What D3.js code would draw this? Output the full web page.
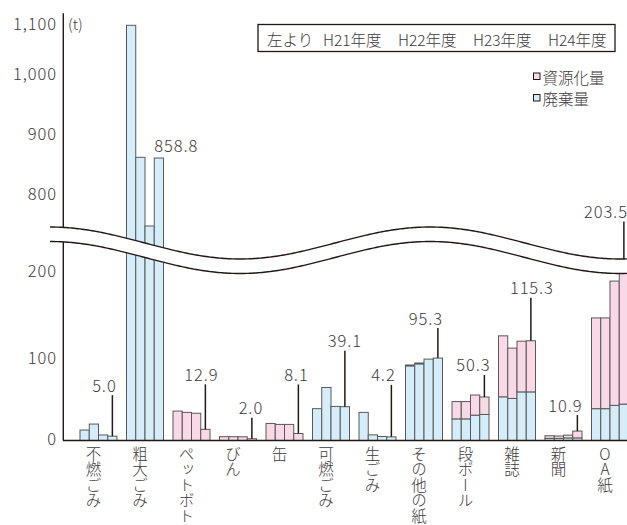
<!DOCTYPE html>
<html><head><meta charset="utf-8">
<script src="https://cdn.jsdelivr.net/npm/d3@7"></script>
<style>
html,body{margin:0;padding:0;background:#fff;overflow:hidden;}
svg{display:block;}
text{font-family:"Noto Sans CJK JP","Noto Sans",sans-serif;fill:#3e3a39;font-weight:300;}
.num{letter-spacing:0.9px;}
</style></head><body>
<svg id="chart" width="627" height="525"></svg>
<script>
// ---------- data ----------
const categories = ["不燃ごみ","粗大ごみ","ペットボトル","びん","缶","可燃ごみ","生ごみ","その他の紙","段ボール","雑誌","新聞","OA紙"];
const years = ["H21年度","H22年度","H23年度","H24年度"];
// 廃棄量 (t) per category, H21..H24
const waste = [
  [12.1, 19.0, 6.4, 5.0],
  [1080, 860, 745.5, 858.8],
  [0, 0, 0, 0],
  [0, 0, 0, 0],
  [0, 0, 0, 0],
  [36.8, 61.3, 39.4, 39.1],
  [32.5, 6.5, 4.6, 4.2],
  [86.3, 88.6, 94.1, 95.3],
  [25.0, 25.0, 29.3, 30.1],
  [50.5, 48.6, 56.2, 56.2],
  [2.5, 2.5, 3.0, 3.0],
  [36.8, 36.8, 40.6, 42.1]
];
// 資源化量 (t) per category, H21..H24
const resource = [
  [0, 0, 0, 0],
  [0, 0, 0, 0],
  [34.0, 32.5, 31.5, 12.9],
  [4.4, 4.4, 4.3, 2.0],
  [19.7, 18.6, 18.6, 8.1],
  [0, 0, 0, 0],
  [0, 0, 0, 0],
  [1.0, 1.0, 0, 0],
  [20.0, 20.0, 23.3, 20.2],
  [70.5, 58.2, 58.6, 59.1],
  [3.0, 2.7, 3.2, 7.9],
  [104.9, 104.9, 143.7, 161.4]
];
const lowerTicks = [0, 100, 200];
const upperTicks = [800, 900, 1000, 1100];
const seriesNames = ["資源化量", "廃棄量"];
const legendPrefix = "左より";
const unitLabel = "(t)";

// ---------- layout / style ----------
const colors = { "資源化量": "#f9d9e7", "廃棄量": "#d5ecf9" };
const barStroke = "#5a5858";
const ink = "#231815";
// annotation layout for H24 total labels: [leader length px, label dx from leader]
const annot = [
  [41, -8], null, [45, -4], [21, -1], [49, -2], [56, 0], [52, -8], [30, -12], [22, -11], [43, 1], [16, -12], [43, 0]
];

const svg = d3.select("#chart");
const fmt = d3.format(",");

const yLow = d3.scaleLinear().domain([0, 200]).range([440.5, 267.5]);
const yUp = d3.scaleLinear().domain([800, 1100]).range([193.3, 13.3]);
const y = v => (v > 400 ? yUp(v) : yLow(v));

const x = d3.scaleBand().domain(categories).range([80, 628.5]).paddingInner(9.5 / 46.5).paddingOuter(0);
const xs = d3.scaleBand().domain(years).range([0, x.bandwidth()]).padding(0);

// ---------- bars ----------
const barData = [];
categories.forEach((c, i) => {
  years.forEach((yr, j) => {
    const w = waste[i][j], r = resource[i][j];
    const x0 = x(c) + xs(yr);
    if (w > 0) barData.push({ x: x0, v0: 0, v1: w, s: "廃棄量" });
    if (r > 0) barData.push({ x: x0, v0: w, v1: w + r, s: "資源化量" });
  });
});
svg.append("g").selectAll("rect").data(barData).join("rect")
  .attr("x", d => d.x)
  .attr("y", d => y(d.v1))
  .attr("width", xs.bandwidth())
  .attr("height", d => y(d.v0) - y(d.v1))
  .attr("fill", d => colors[d.s])
  .attr("stroke", barStroke)
  .attr("stroke-width", 1);

// ---------- axes ----------
svg.append("line").attr("x1", 63.3).attr("x2", 63.3).attr("y1", yUp(1100)).attr("y2", yLow(0))
  .attr("stroke", ink).attr("stroke-width", 1.4);
svg.append("line").attr("x1", 63).attr("x2", 627).attr("y1", yLow(0)).attr("y2", yLow(0))
  .attr("stroke", ink).attr("stroke-width", 1.4);

// ---------- leader lines ----------
const gAnn = svg.append("g");
const labelItems = [];
categories.forEach((c, i) => {
  const tot = waste[i][3] + resource[i][3];
  const lx = x(c) + xs(years[3]) + xs.bandwidth() / 2;
  const top = y(tot);
  const a = annot[i];
  if (a) {
    const ly = top - a[0];
    gAnn.append("line").attr("x1", lx).attr("x2", lx).attr("y1", top).attr("y2", ly)
      .attr("stroke", ink).attr("stroke-width", 1.5);
    if (i === categories.length - 1) {
      labelItems.push({ t: tot.toFixed(1), x: lx + 4, y: ly - 3.5, anchor: "end" });
    } else {
      labelItems.push({ t: tot.toFixed(1), x: lx + a[1], y: ly - 3.5, anchor: "middle" });
    }
  } else {
    labelItems.push({ t: tot.toFixed(1), x: x(c) + xs(years[3]), y: top - 6, anchor: "start" });
  }
});

// ---------- break band ----------
const wx = d3.range(50, 640, 2);
const yt = px => 243 - 16 * Math.cos(2 * Math.PI * (px - 50) / 380);
const yb = px => yt(px) + 14.5;
svg.append("path").datum(wx)
  .attr("d", d3.area().x(d => d).y0(d => yt(d)).y1(d => yb(d)))
  .attr("fill", "#fff");
svg.append("path").datum(wx).attr("d", d3.line().x(d => d).y(d => yt(d)))
  .attr("fill", "none").attr("stroke", ink).attr("stroke-width", 1.4);
svg.append("path").datum(wx).attr("d", d3.line().x(d => d).y(d => yb(d)))
  .attr("fill", "none").attr("stroke", ink).attr("stroke-width", 1.4);

// ---------- value labels ----------
svg.append("g").selectAll("text").data(labelItems).join("text")
  .attr("class", "num")
  .attr("x", d => d.x).attr("y", d => d.y)
  .attr("text-anchor", d => d.anchor)
  .attr("font-size", 16.5)
  .text(d => d.t);

// ---------- tick labels ----------
const tg = svg.append("g").attr("font-size", 16.5).attr("text-anchor", "end");
lowerTicks.forEach(v => {
  tg.append("text").attr("class", "num").attr("x", 57).attr("y", yLow(v) + (v === 0 ? -3 : 2.5))
    .attr("dominant-baseline", "central").text(fmt(v));
});
upperTicks.forEach(v => {
  tg.append("text").attr("class", "num").attr("x", 57).attr("y", yUp(v) + (v === 1100 ? 9.5 : 0))
    .attr("dominant-baseline", "central").text(fmt(v));
});
svg.append("text").attr("x", 68).attr("y", 23).attr("dominant-baseline", "central")
  .attr("font-size", 15).text(unitLabel);

// ---------- category labels ----------
svg.append("g").selectAll("text").data(categories).join("text")
  .attr("x", c => x(c) + x.bandwidth() / 2 - 5)
  .attr("y", 446)
  .attr("font-size", 15.5)
  .style("writing-mode", "vertical-rl")
  .style("text-orientation", "upright")
  .text(c => c);

// ---------- legend box ----------
svg.append("rect").attr("x", 258).attr("y", 24.5).attr("width", 357).attr("height", 27)
  .attr("fill", "#fff").attr("stroke", ink).attr("stroke-width", 1.3);
svg.append("text").attr("x", 267).attr("y", 38.5).attr("dominant-baseline", "central")
  .attr("font-size", 15.5).text(legendPrefix);
svg.append("g").selectAll("text").data(years).join("text")
  .attr("x", (d, i) => 323 + i * 75).attr("y", 38.5)
  .attr("dominant-baseline", "central").attr("font-size", 15.5).text(d => d);

// ---------- series legend ----------
const lg = svg.append("g").selectAll("g").data(seriesNames).join("g")
  .attr("transform", (d, i) => `translate(533.5,${73 + i * 21.5})`);
lg.append("rect").attr("width", 6.5).attr("height", 6.5)
  .attr("fill", d => colors[d]).attr("stroke", ink).attr("stroke-width", 1);
lg.append("text").attr("x", 9).attr("y", 3.5).attr("dominant-baseline", "central")
  .attr("font-size", 15.5).text(d => d);
</script>
</body></html>
